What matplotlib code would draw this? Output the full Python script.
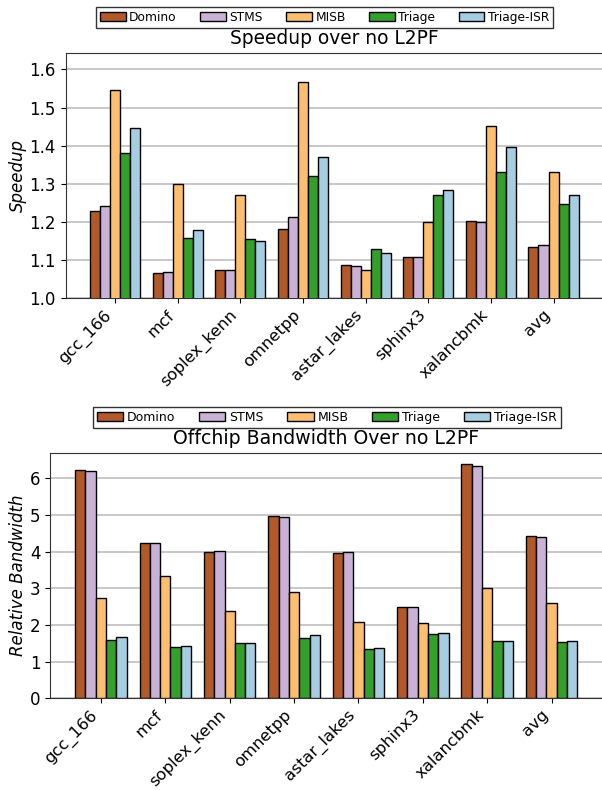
import numpy as np
import matplotlib
matplotlib.use("Agg")
import matplotlib.pyplot as plt

benchmarks = ["gcc_166", "mcf", "soplex_kenn", "omnetpp", "astar_lakes",
              "sphinx3", "xalancbmk", "avg"]
schemes = ["Domino", "STMS", "MISB", "Triage", "Triage-ISR"]
colors = ["#b15928", "#cab2d6", "#fdbf6f", "#33a02c", "#a6cee3"]

# Speedup relative to a system without an L2 prefetcher
speedup_domino = [1.228, 1.067, 1.075, 1.183, 1.088, 1.108, 1.204, 1.134]
speedup_stms = [1.241, 1.070, 1.075, 1.212, 1.085, 1.108, 1.201, 1.141]
speedup_misb = [1.545, 1.300, 1.271, 1.566, 1.073, 1.201, 1.451, 1.332]
speedup_triage = [1.382, 1.157, 1.155, 1.321, 1.129, 1.272, 1.330, 1.246]
speedup_isr = [1.447, 1.180, 1.151, 1.371, 1.120, 1.283, 1.397, 1.272]

# Off-chip traffic relative to a system without an L2 prefetcher
bw_domino = [6.23, 4.24, 3.99, 4.96, 3.96, 2.48, 6.38, 4.42]
bw_stms = [6.19, 4.23, 4.01, 4.95, 3.99, 2.48, 6.34, 4.41]
bw_misb = [2.74, 3.33, 2.38, 2.90, 2.09, 2.05, 3.02, 2.60]
bw_triage = [1.60, 1.39, 1.50, 1.64, 1.34, 1.75, 1.57, 1.54]
bw_isr = [1.67, 1.42, 1.50, 1.72, 1.36, 1.78, 1.56, 1.57]

speedup = [speedup_domino, speedup_stms, speedup_misb, speedup_triage, speedup_isr]
bandwidth = [bw_domino, bw_stms, bw_misb, bw_triage, bw_isr]

W, H = 602, 790
fig = plt.figure(figsize=(W / 100, H / 100), dpi=100)


def px_axes(left, top, right, bottom):
    return fig.add_axes([left / W, 1 - bottom / H, (right - left) / W, (bottom - top) / H])


ax1 = px_axes(65.7, 52.7, 603, 298.3)
ax2 = px_axes(50, 452.7, 602.5, 698.3)

x = np.arange(len(benchmarks))
width = 0.16


def draw(ax, series):
    for i, (vals, col, name) in enumerate(zip(series, colors, schemes)):
        ax.bar(x + (i - 2) * width, vals, width, color=col, edgecolor="black",
               linewidth=1.0, label=name, zorder=3)
    ax.set_xticks(x)
    ax.set_xticklabels(benchmarks, rotation=45, ha="right", fontsize=11.8)
    ax.tick_params(axis="y", labelsize=12)
    ax.tick_params(axis="x", pad=3)
    ax.yaxis.grid(True, color="#c4c4c4", linewidth=1.3, zorder=0)
    ax.set_axisbelow(True)
    ax.set_xlim(-0.79, 7.79)
    for s in ax.spines.values():
        s.set_color("#333333")


draw(ax1, speedup)
ax1.set_ylim(1.0, 1.644)
ax1.set_yticks([1.0, 1.1, 1.2, 1.3, 1.4, 1.5, 1.6])
ax1.set_ylabel("Speedup", fontsize=12, style="italic", labelpad=2)
ax1.set_title("Speedup over no L2PF", fontsize=13.4)

draw(ax2, bandwidth)
ax2.set_ylim(0, 6.70)
ax2.set_yticks(range(0, 7))
ax2.set_ylabel("Relative Bandwidth", fontsize=12, style="italic", labelpad=2)
ax2.set_title("Offchip Bandwidth Over no L2PF", fontsize=13.6)

for ax, bx, by, fs in [(ax1, 324.5 / W, 1 - 17.5 / H, 8.8),
                       (ax2, 327 / W, 1 - 417.5 / H, 9.0)]:
    fig.legend(handles=ax.containers, labels=schemes, ncol=5, loc="center",
               bbox_to_anchor=(bx, by), fontsize=fs, frameon=True, fancybox=False,
               edgecolor="black", borderpad=0.35, handletextpad=0.3,
               columnspacing=1.9, handlelength=2.1)

fig.savefig("out.png", dpi=100)
